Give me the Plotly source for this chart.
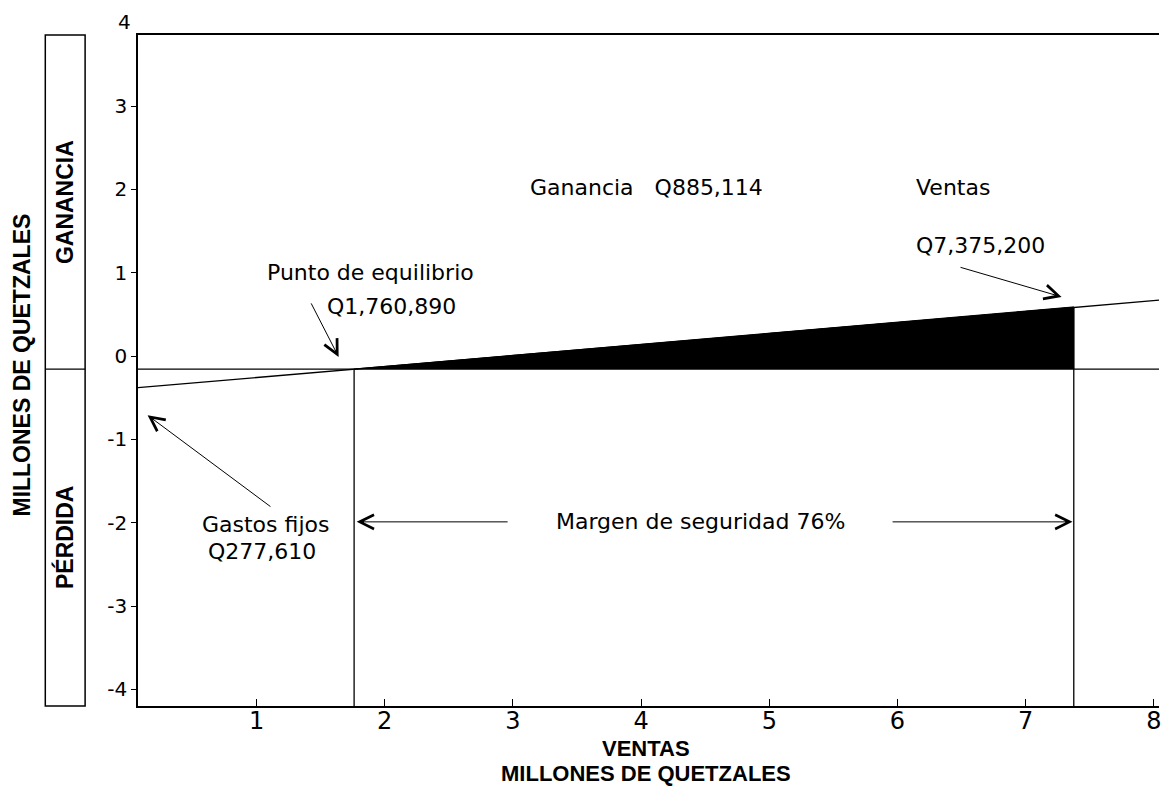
import plotly.graph_objects as go

# ---- data (millions of quetzales) ----
x_ticks = [1, 2, 3, 4, 5, 6, 7, 8]
x_ticktext = ["1", "2", "3", "4", "5", "6", "7", "8"]
y_ticks = [-4, -3, -2, -1, 0, 1, 2, 3]
y_ticktext = ["-4", "-3", "-2", "-1", "0", "1", "2", "3"]
top_tick_label = "4"

x_range = [0.075, 8.04]
y_range = [-4.20, 3.853]

baseline = -0.156          # drawn zero line
breakeven_sales = 1.76089  # Q1,760,890
sales = 7.3752             # Q7,375,200

# profit line
line_x = [0.075, 1.76089, 7.3752, 8.04]
line_y = [-0.38, -0.156, 0.59, 0.67]

# shaded profit area
area_x = [1.76089, 7.3752, 7.3752]
area_y = [-0.156, 0.59, -0.156]

FONT = "DejaVu Sans"
BOLD = "Liberation Sans, Arial"

fig = go.Figure()

fig.add_trace(go.Scatter(x=area_x, y=area_y, mode="lines", fill="toself",
                         fillcolor="black", line=dict(color="black", width=1),
                         hoverinfo="skip", showlegend=False))
fig.add_trace(go.Scatter(x=line_x, y=line_y, mode="lines",
                         line=dict(color="black", width=1.3),
                         hoverinfo="skip", showlegend=False))
# vertical lines
fig.add_trace(go.Scatter(x=[breakeven_sales, breakeven_sales], y=[baseline, y_range[0]],
                         mode="lines", line=dict(color="black", width=1.3),
                         hoverinfo="skip", showlegend=False))
fig.add_trace(go.Scatter(x=[sales, sales], y=[area_y[1], y_range[0]],
                         mode="lines", line=dict(color="black", width=1.3),
                         hoverinfo="skip", showlegend=False))

shapes = [
    # baseline across plot
    dict(type="line", xref="paper", yref="y", x0=0, x1=1, y0=baseline, y1=baseline,
         line=dict(color="black", width=1.3)),
    # side box
    dict(type="rect", xref="paper", yref="paper", x0=-0.0908, x1=-0.0518, y0=0, y1=1,
         line=dict(color="black", width=1.5)),
    dict(type="line", xref="paper", yref="y", x0=-0.0908, x1=-0.0518, y0=baseline, y1=baseline,
         line=dict(color="black", width=1.3)),
]

txt = dict(family=FONT, size=22, color="black")
bold = dict(family=BOLD, size=23, color="black")

def note(**kw):
    d = dict(showarrow=False, xanchor="center", yanchor="middle")
    d.update(kw)
    return d

annotations = [
    note(x=4.04, y=2.02, text="Ganancia   Q885,114", font=txt),
    note(x=6.13, y=2.02, text="Ventas", font=txt, xanchor="left"),
    note(x=6.13, y=1.33, text="Q7,375,200", font=txt, xanchor="left"),
    note(x=1.89, y=1.0, text="Punto de equilibrio", font=txt),
    note(x=2.05, y=0.60, text="Q1,760,890", font=txt),
    note(x=1.07, y=-2.02, text="Gastos fijos", font=txt),
    note(x=1.04, y=-2.35, text="Q277,610", font=txt),
    note(x=4.46, y=-1.99, text="Margen de seguridad 76%", font=txt),
    # top tick label
    note(xref="paper", yref="paper", x=-0.0049, y=1.019, text=top_tick_label,
         xanchor="right", font=dict(family=FONT, size=20, color="black")),
    # axis titles
    note(xref="paper", yref="paper", x=0.498, y=-0.0626, text="<b>VENTAS</b>",
         font=dict(family=BOLD, size=22, color="black")),
    note(xref="paper", yref="paper", x=0.498, y=-0.0999, text="<b>MILLONES DE QUETZALES</b>",
         font=dict(family=BOLD, size=22, color="black")),
    note(xref="paper", yref="y", x=-0.1133, y=-0.11, text="<b>MILLONES DE QUETZALES</b>",
         textangle=-90, font=bold),
    note(xref="paper", yref="y", x=-0.0713, y=1.85, text="<b>GANANCIA</b>",
         textangle=-90, font=bold),
    note(xref="paper", yref="y", x=-0.0713, y=-2.17, text="<b>PÉRDIDA</b>",
         textangle=-90, font=bold),
]

arrow_common = dict(xref="x", yref="y", axref="x", ayref="y", text="", showarrow=True,
                    arrowhead=5, arrowsize=2.8, arrowwidth=1, arrowcolor="black")
arrows = [
    ((1.64, -0.01), (1.42, 0.65)),
    ((7.28, 0.71), (6.48, 1.07)),
    ((0.15, -0.71), (1.12, -1.82)),
    ((breakeven_sales + 0.02, -1.99), (2.97, -1.99)),
    ((sales - 0.01, -1.99), (5.95, -1.99)),
]
for (hx, hy), (tx, ty) in arrows:
    annotations.append(dict(x=hx, y=hy, ax=tx, ay=ty, **arrow_common))

fig.update_layout(
    width=1162, height=789,
    margin=dict(l=138, r=0, t=35, b=83),
    paper_bgcolor="white", plot_bgcolor="white",
    font=dict(family=FONT, color="black"),
    showlegend=False,
    shapes=shapes, annotations=annotations,
    xaxis=dict(range=x_range, tickvals=x_ticks, ticktext=x_ticktext,
               showgrid=False, zeroline=False, showline=True, linecolor="black",
               linewidth=1.5, mirror=True, ticks="inside", ticklen=7, tickcolor="black",
               tickwidth=1.3, ticklabelstandoff=-8, ticklabeloverflow="allow",
               tickfont=dict(family=FONT, size=24, color="black")),
    yaxis=dict(range=y_range, tickvals=y_ticks, ticktext=y_ticktext,
               showgrid=False, zeroline=False, showline=True, linecolor="black",
               linewidth=1.5, ticks="outside", ticklen=5, tickcolor="black",
               tickwidth=1.3, tickfont=dict(family=FONT, size=20, color="black")),
)

fig.write_html("out.html", config={"displayModeBar": False},
               post_script="document.body.style.margin='0';document.body.style.overflow='hidden';")
